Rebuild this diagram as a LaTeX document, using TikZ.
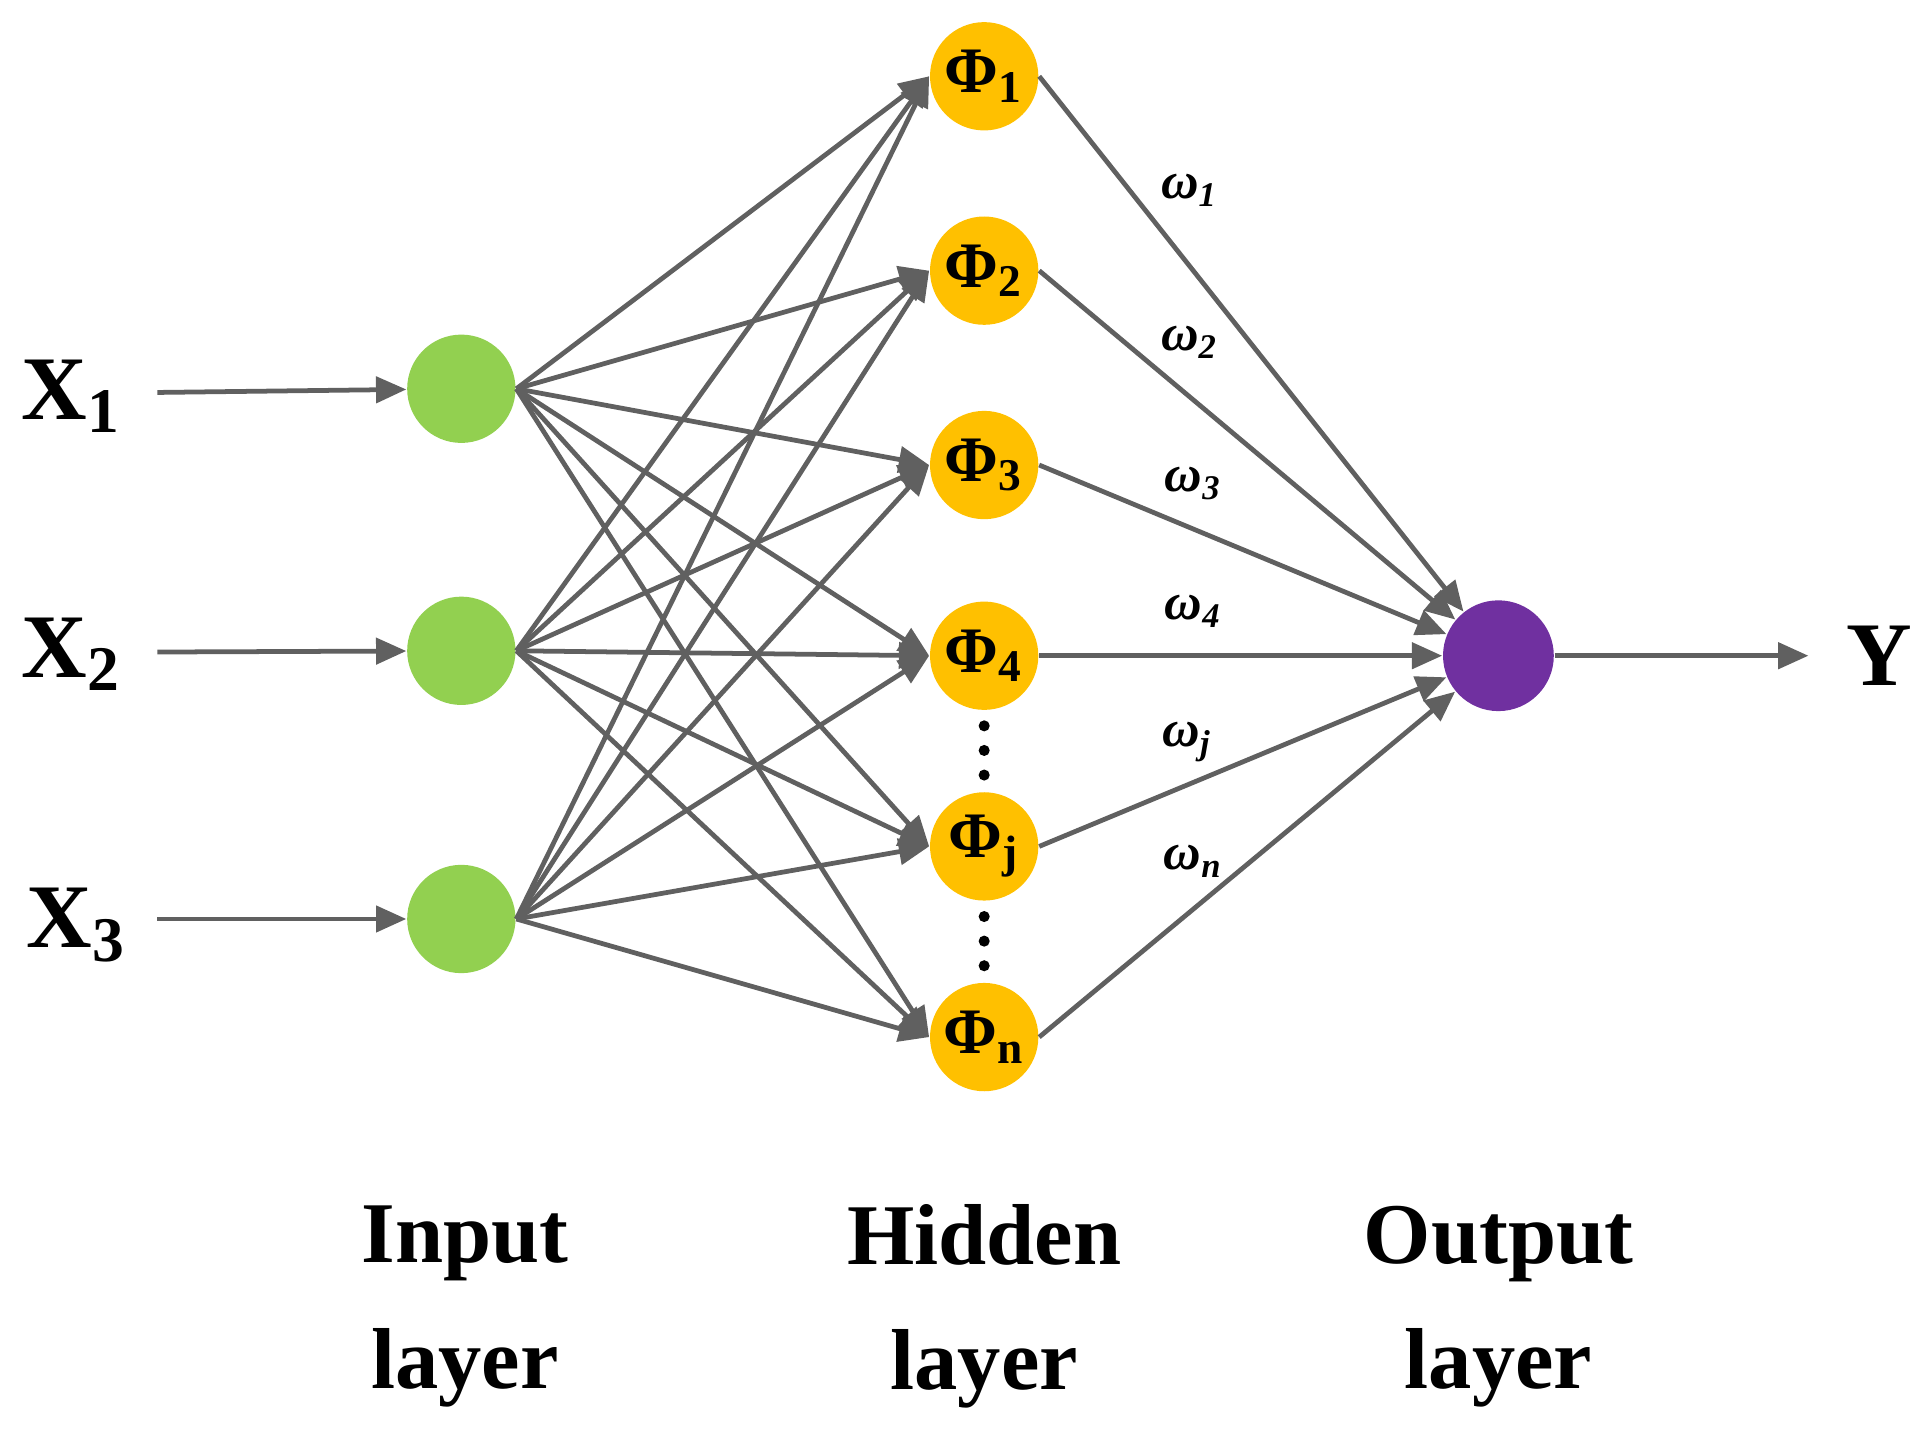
\documentclass[tikz,border=0pt]{standalone}
\usepackage{fontspec}
\setmainfont{Liberation Serif}
\usetikzlibrary{arrows.meta}
\definecolor{ingreen}{HTML}{92D050}
\definecolor{hidorange}{HTML}{FFC000}
\definecolor{outpurple}{HTML}{7030A0}
\definecolor{edgegray}{HTML}{606060}
\newcommand{\phisub}[1]{Φ\textsubscript{#1}}
\newcommand{\omsub}[1]{ω\textsubscript{#1}}
\begin{document}
\begin{tikzpicture}[x=0.01cm, y=-0.01cm,
  neuron/.style = {circle, minimum size = 0.88cm, inner sep = 0pt, font=\fontsize{15}{17}\selectfont\bfseries},
  link/.style = {draw=edgegray, line width=1.1pt, -{Triangle[length=7pt, width=6pt]}},
  weight/.style = {font=\fontsize{12}{14}\selectfont\bfseries\itshape},
  big/.style = {font=\fontsize{21}{24}\selectfont\bfseries},
  layer/.style = {align=center, font=\fontsize{20}{29}\selectfont\bfseries}]
\useasboundingbox (0,0) rectangle (1568,1163);
% input layer
\node[neuron, fill=ingreen] (i1) at (375, 316) {};
\node[neuron, fill=ingreen] (i2) at (375, 529) {};
\node[neuron, fill=ingreen] (i3) at (375, 747) {};
% hidden layer
\node[neuron, fill=hidorange] (h1) at (800, 62) {\phisub{1}};
\node[neuron, fill=hidorange] (h2) at (800, 220) {\phisub{2}};
\node[neuron, fill=hidorange] (h3) at (800, 378) {\phisub{3}};
\node[neuron, fill=hidorange] (h4) at (800, 533) {\phisub{4}};
\node[neuron, fill=hidorange] (hj) at (800, 688) {\phisub{j}};
\node[neuron, fill=hidorange] (hn) at (800, 843) {\phisub{n}};
% output layer
\node[neuron, fill=outpurple, minimum size=0.9cm] (o) at (1218, 533) {};
% inputs and output labels
\node[big] (x1) at (58, 322) {X\textsubscript{1}};
\node[big] (x2) at (58, 532) {X\textsubscript{2}};
\node[big] (x3) at (62, 752) {X\textsubscript{3}};
\node[big] (y) at (1528, 533) {Y};
\coordinate (x1e) at (128, 319);
\coordinate (x2e) at (128, 530);
\coordinate (x3e) at (128, 747);
\coordinate (ye) at (1470, 533);
\draw[link] (x1e) -- (i1);
\draw[link] (x2e) -- (i2);
\draw[link] (x3e) -- (i3);
\draw[link] (o) -- (ye);
% connections
\foreach \from in {i1, i2, i3}
  \foreach \to in {h1, h2, h3, h4, hj, hn}
    \draw[link] (\from.east) -- (\to.west);
\foreach \from in {h1, h2, h3, h4, hj, hn}
  \draw[link] (\from.east) -- (o);
% dots
\foreach \yy in {590, 610, 630, 745, 765, 785}
  \fill (800, \yy) circle (0.045cm);
% weights
\node[weight] (w1) at (967, 155) {\omsub{1}};
\node[weight] (w2) at (967, 278) {\omsub{2}};
\node[weight] (w3) at (970, 393) {\omsub{3}};
\node[weight] (w4) at (970, 497) {\omsub{4}};
\node[weight] (wj) at (965, 603) {\omsub{j}};
\node[weight] (wn) at (970, 700) {\omsub{n}};
% layer captions
\node[layer] (li) at (378, 1062) {Input\\layer};
\node[layer] (lh) at (800, 1062) {Hidden\\layer};
\node[layer] (lo) at (1218, 1062) {Output\\layer};
\end{tikzpicture}
\end{document}
